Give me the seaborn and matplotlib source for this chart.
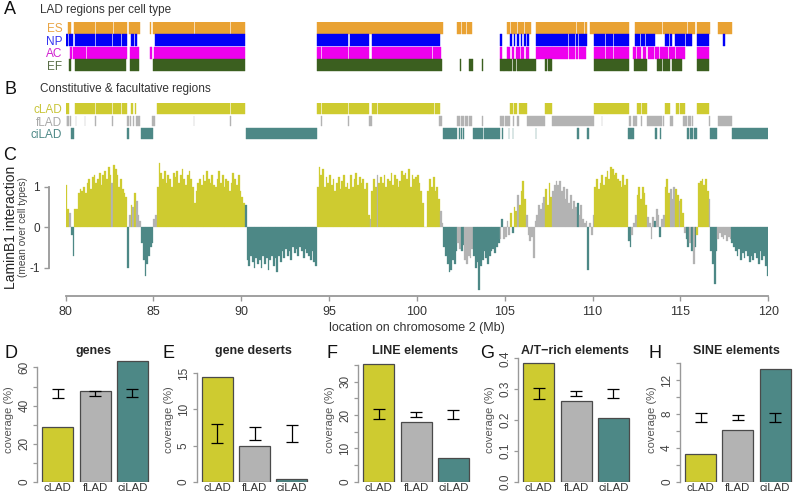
import numpy as np
import matplotlib
matplotlib.use("Agg")
import matplotlib.pyplot as plt
import seaborn as sns

# ---- LAD calls per cell type (start, end) in Mb ----
es_regions = [(80.14, 80.30), (80.50, 81.70), (81.73, 82.70), (82.73, 83.47), (83.63, 84.23),
              (84.82, 84.88), (84.97, 87.31), (87.34, 89.36), (89.39, 90.23), (94.29, 97.78),
              (97.81, 101.46), (102.29, 102.50), (102.56, 102.78), (102.84, 103.11),
              (105.10, 105.30), (105.38, 105.70), (105.76, 106.10), (106.16, 106.47),
              (106.77, 109.08), (109.12, 109.37), (109.41, 109.52), (109.57, 109.67),
              (109.86, 112.05), (112.42, 113.93), (114.02, 115.35), (115.44, 115.82),
              (115.92, 116.68), (117.11, 117.91)]
np_regions = [(80.02, 80.14), (80.21, 80.28), (80.33, 80.44), (80.53, 81.70), (81.73, 82.65),
              (82.68, 83.18), (83.21, 83.48), (83.70, 83.89), (83.97, 84.08), (85.09, 90.23),
              (94.31, 96.06), (96.19, 97.25), (97.44, 101.31), (104.72, 104.85), (105.30, 105.40),
              (105.50, 105.60), (105.70, 105.80), (105.90, 106.00), (106.10, 106.20),
              (106.25, 106.37), (106.77, 107.66), (107.70, 108.61), (108.65, 108.99),
              (109.03, 109.18), (109.22, 109.37), (109.41, 109.67), (110.05, 110.70),
              (110.74, 111.17), (111.21, 112.05), (112.42, 112.70), (112.76, 113.00),
              (113.06, 113.55), (114.11, 114.36), (114.42, 114.50), (114.68, 115.25),
              (115.30, 115.63), (115.92, 116.64), (117.40, 117.53)]
ac_regions = [(80.25, 80.35), (80.44, 81.18), (81.22, 83.48), (83.67, 84.18), (84.80, 84.90),
              (85.03, 90.23), (94.31, 94.56), (94.60, 96.09), (96.13, 97.28), (97.44, 100.66),
              (100.70, 100.85), (100.89, 101.35), (104.72, 104.82), (105.14, 105.30),
              (105.40, 105.55), (105.65, 105.85), (105.95, 106.10), (106.20, 106.37),
              (106.77, 108.61), (108.65, 108.99), (109.03, 109.18), (109.22, 109.37),
              (109.41, 109.60), (110.05, 110.70), (110.74, 111.17), (111.21, 112.05),
              (112.28, 112.45), (112.55, 112.75), (112.85, 113.05), (113.15, 113.50),
              (113.56, 113.80), (113.86, 114.30), (114.36, 114.70), (114.76, 115.25),
              (115.92, 116.64)]
ef_regions = [(80.21, 80.31), (80.53, 83.44), (83.67, 84.20), (84.96, 90.23), (94.31, 101.40),
              (102.43, 102.49), (102.96, 103.19), (103.72, 103.76), (104.72, 104.93),
              (104.97, 105.22), (105.26, 105.40), (105.44, 105.65), (105.69, 106.77),
              (107.27, 107.42), (107.46, 107.68), (110.09, 112.05), (112.33, 113.09),
              (113.64, 113.93), (114.02, 114.40), (114.50, 115.07), (115.92, 116.64)]

# ---- constitutive / facultative classes (start, end) in Mb ----
clad_regions = [(80.00, 80.18), (80.53, 81.08), (81.12, 81.69), (81.73, 82.64), (82.68, 83.18),
                (83.21, 83.48), (83.70, 83.82), (83.93, 84.00), (85.18, 87.30), (87.33, 89.37),
                (89.40, 90.23), (94.31, 94.56), (94.60, 96.10), (96.13, 97.28), (97.44, 97.75),
                (97.78, 100.66), (100.70, 100.98), (101.02, 101.31), (105.29, 105.45),
                (105.55, 105.70), (105.80, 106.24), (107.27, 107.68), (110.09, 110.52),
                (110.55, 110.80), (110.83, 112.05), (112.52, 112.78), (112.82, 113.09),
                (114.11, 114.40), (114.72, 114.92), (114.96, 115.25), (115.92, 116.64)]
flad_regions = [(79.98, 80.05), (80.10, 80.20), (80.25, 80.32), (80.59, 80.61), (81.09, 81.11),
                (81.70, 81.72), (82.65, 82.67), (83.48, 83.60), (83.64, 83.70), (83.82, 83.92),
                (84.00, 84.23), (84.90, 85.09), (87.30, 87.33), (89.37, 89.39), (94.56, 94.60),
                (96.10, 96.13), (97.28, 97.44), (101.25, 101.44), (102.29, 102.45),
                (102.50, 102.70), (102.75, 102.90), (102.95, 103.15), (103.71, 103.74),
                (104.72, 104.95), (105.00, 105.29), (105.45, 105.55), (105.70, 105.80),
                (106.24, 107.27), (107.68, 110.05), (110.52, 110.55), (112.05, 112.20),
                (112.28, 112.52), (112.78, 112.82), (113.09, 113.93), (114.02, 114.08),
                (114.40, 114.55), (115.16, 115.35), (115.45, 115.60), (115.65, 115.73),
                (116.64, 116.68), (117.11, 117.91)]
cilad_regions = [(80.32, 80.48), (83.48, 83.61), (84.27, 84.96), (90.25, 94.31), (101.50, 102.29),
                 (102.40, 102.43), (102.52, 102.56), (102.64, 102.68), (103.20, 103.76),
                 (103.81, 104.72), (104.85, 104.88), (105.22, 105.24), (105.44, 105.46),
                 (106.77, 106.80), (109.11, 109.20), (109.67, 109.77), (112.01, 112.10),
                 (112.14, 112.22), (112.26, 112.33), (113.55, 113.64), (113.85, 113.88),
                 (115.35, 115.50), (115.56, 115.70), (115.76, 115.92), (116.70, 117.06),
                 (117.91, 120.00)]

# ---- mean LaminB1 interaction, 0.1 Mb bins starting at 80 Mb ----
signal_start = 80.0
signal_step = 0.1
lamin_signal = [
    1.05, 0.45, 0.35, -0.2, -0.7, 0.45, 0.45, 0.85, 0.95, 0.9,
    1.0, 0.85, 1.1, 1.2, 0.95, 1.25, 1.3, 1.1, 1.2, 1.35,
    1.05, 1.3, 1.4, 1.2, 1.5, 1.3, 1.1, 1.55, 1.45, 1.3,
    1.0, 1.2, 0.95, 0.85, 0.75, -1.0, 0.3, 0.55, 0.5, 0.85,
    0.65, 0.3, 0.15, -0.4, -0.8, -1.2, -0.9, -0.7, -0.5, -0.4,
    0.2, 0.3, 1.0, 1.6, 1.35, 1.2, 1.4, 1.1, 1.3, 1.2,
    1.0, 1.35, 1.25, 1.4, 1.1, 1.3, 1.45, 1.2, 1.05, 1.3,
    1.4, 1.2, 1.0, 0.6, 0.9, 1.1, 1.2, 1.05, 1.3, 1.15,
    1.4, 1.2, 1.1, 1.3, 1.05, 1.0, 1.2, 1.4, 1.1, 1.3,
    1.0, 1.2, 1.15, 0.9, 1.1, 1.35, 1.2, 1.05, 1.3, 0.9,
    0.75, 0.6, 0.55, -0.8, -0.95, -0.7, -0.85, -1.0, -0.75, -0.9,
    -0.8, -1.0, -0.7, -0.9, -0.75, -1.05, -0.8, -0.7, -0.95, -0.75,
    -1.1, -0.7, -0.85, -0.6, -0.75, -0.55, -0.7, -0.6, -0.8, -0.5,
    -0.65, -0.55, -0.7, -0.5, -0.6, -0.75, -0.55, -0.65, -0.7, -0.8,
    -0.6, -0.85, -0.95, 1.0, 1.5, 1.3, 1.45, 1.0, 1.25, 1.1,
    1.3, 1.05, 1.2, 0.9, 1.1, 1.25, 0.95, 1.15, 1.3, 1.0,
    1.1, 0.95, 1.3, 1.0, 1.2, 1.35, 1.05, 1.25, 1.1, 1.2,
    0.95, 1.1, 0.3, 0.2, 0.9, 1.2, 1.0, 1.3, 1.1, 1.25,
    1.1, 1.3, 1.0, 1.2, 1.15, 1.35, 1.05, 1.3, 1.2, 1.0,
    1.15, 1.4, 1.3, 1.35, 1.2, 1.45, 1.0, 1.3, 1.2, 1.25,
    1.3, 1.1, 0.9, 0.6, 0.0, 0.0, 0.9, 1.2, 1.0, 1.25,
    0.9, 1.0, 0.7, 0.4, 0.1, -0.5, -0.7, -0.9, -1.1, -1.05,
    -0.8, -0.9, -0.6, -0.4, -0.55, -0.6, -0.45, -0.8, -0.9, -0.7,
    -0.75, -0.55, -0.7, -1.0, -0.85, -1.55, -0.95, -0.8, -0.6, -0.75,
    -0.9, -0.7, -0.6, -0.55, -0.65, -0.5, -0.4, -0.3, 0.2, -0.3,
    -0.25, 0.15, -0.2, 0.35, -0.15, 0.5, 0.4, 0.8, 0.55, 0.9,
    1.15, 0.7, 0.3, -0.2, -0.35, -0.25, -0.75, 0.15, 0.3, 0.55,
    0.45, 0.6, 0.75, 0.95, 0.55, 1.1, 0.75, 0.9, 1.05, 1.15,
    1.05, 1.15, 0.9, 1.0, 0.7, 0.95, 0.6, 0.8, 0.45, 0.65,
    0.5, 0.6, 0.3, 0.55, 0.2, 0.1, 0.15, -1.05, 0.1, -0.2,
    0.3, 1.0, 1.2, 0.95, 1.1, 1.3, 1.05, 1.25, 1.4, 1.2,
    1.5, 1.45, 1.3, 1.35, 1.2, 1.15, 1.0, 1.3, 1.05, 1.2,
    -0.35, -0.5, -0.2, 0.1, 0.3, 0.8, 1.0, 0.7, 1.0, 0.85,
    0.55, 0.25, 0.1, -0.3, 0.25, 0.15, 0.45, 0.3, -0.25, 0.2,
    0.3, 1.0, 1.2, 0.85, 0.95, 0.7, 1.0, 0.95, 0.8, 0.65,
    0.7, 0.35, -0.15, -0.3, -0.5, -0.4, -0.6, -0.9, -0.5, -0.2,
    1.1, 1.15, 1.2, 1.05, 1.2, 0.9, 0.7, -0.6, -0.9, -1.4,
    -0.6, -0.3, -0.15, -0.25, -0.3, -0.2, -0.35, -0.25, -0.3, -0.4,
    -0.5, -0.6, -0.7, -0.55, -0.8, -0.65, -0.75, -0.6, -0.7, -0.85,
    -0.7, -0.8, -0.65, -0.75, -0.9, -0.6, -0.8, -0.7, -0.95, -1.2,
]

# ---- coverage per class (%), bar value and random-expectation interval ----
region_classes = ["cLAD", "fLAD", "ciLAD"]
genes_cov = [28.6, 47.8, 63.5]
genes_low = [44.1, 45.1, 44.6]
genes_high = [48.5, 47.8, 48.5]
deserts_cov = [14.45, 5.0, 0.37]
deserts_low = [5.4, 5.8, 5.55]
deserts_high = [8.0, 7.6, 7.85]
line_cov = [35.2, 18.0, 7.2]
line_low = [18.8, 19.5, 18.8]
line_high = [21.7, 21.0, 21.5]
at_cov = [0.384, 0.262, 0.206]
at_low = [0.267, 0.278, 0.270]
at_high = [0.303, 0.294, 0.300]
sine_cov = [3.23, 6.1, 13.27]
sine_low = [7.0, 7.28, 7.08]
sine_high = [8.07, 7.87, 8.07]

cell_types = ["ES", "NP", "AC", "EF"]
cell_regions = [es_regions, np_regions, ac_regions, ef_regions]
class_regions = [clad_regions, flad_regions, cilad_regions]

cell_colors = ["#E9A233", "#0000F6", "#EE00EE", "#3B5F1F"]
cell_label_colors = ["#E9A545", "#3535F0", "#D020D0", "#5A6E48"]
class_colors = ["#CECB30", "#B3B3B3", "#4D8886"]
class_label_colors = ["#C8C538", "#A8A8A8", "#4D8886"]
AXIS_GREY = "#999999"
TEXT_GREY = "#444444"

sns.set_style("white")
plt.rcParams["font.family"] = ["Liberation Sans", "DejaVu Sans"]

W, H = 794, 496
fig = plt.figure(figsize=(W / 100, H / 100), dpi=100)


def px_axes(left, top, right, bottom):
    return fig.add_axes([left / W, 1 - bottom / H, (right - left) / W, (bottom - top) / H])


def fig_text(x, y, s, **kw):
    fig.text(x / W, 1 - y / H, s, va="center", **kw)


X0, X1 = 65.6, 768.3


def draw_tracks(ax, names, regions, colors, label_colors, height):
    for i, (name, regs, col) in enumerate(zip(names, regions, colors)):
        ax.broken_barh([(s, e - s) for s, e in regs], (i + (1 - height) / 2, height),
                       facecolors=col, edgecolors=col, linewidth=0.3)
    ax.set_xlim(80, 120)
    ax.set_ylim(len(names), 0)
    ax.set_xticks([])
    ax.set_yticks(np.arange(len(names)) + 0.5)
    ax.set_yticklabels(names, fontsize=8.5)
    for lab, c in zip(ax.get_yticklabels(), label_colors):
        lab.set_color(c)
    ax.tick_params(axis="y", length=0, pad=2.5)
    sns.despine(ax=ax, left=True, bottom=True)


# A: LAD regions per cell type
fig_text(4, 10, "A", fontsize=13, color="#111111")
fig_text(40, 10, "LAD regions per cell type", fontsize=8.5, color="#333333")
ax_a = px_axes(X0, 21.5, X1, 71.5)
draw_tracks(ax_a, cell_types, cell_regions, cell_colors, cell_label_colors, 0.93)

# B: constitutive & facultative
fig_text(4, 89, "B", fontsize=13, color="#111111")
fig_text(40, 89, "Constitutive & facultative regions", fontsize=8.5, color="#333333")
ax_b = px_axes(X0, 102.5, X1, 139.5)
draw_tracks(ax_b, region_classes, class_regions, class_colors, class_label_colors, 0.86)

# C: LaminB1 signal
fig_text(3, 155, "C", fontsize=13, color="#111111")
ax_c = px_axes(X0, 160.8, X1, 296)
signal = np.array(lamin_signal)
bin_left = signal_start + signal_step * np.arange(len(signal))
bin_mid = bin_left + signal_step / 2


def in_regions(x, regs):
    return any(s <= x < e for s, e in regs)


bin_colors = []
for m in bin_mid:
    if in_regions(m, clad_regions):
        bin_colors.append(class_colors[0])
    elif in_regions(m, cilad_regions):
        bin_colors.append(class_colors[2])
    else:
        bin_colors.append(class_colors[1])
ax_c.bar(bin_left, signal, width=signal_step, align="edge", color=bin_colors,
         edgecolor=bin_colors, linewidth=0.2)
ax_c.set_xlim(80, 120)
ax_c.set_ylim(-1.705, 1.65)
ax_c.set_xticks(np.arange(80, 121, 5))
ax_c.set_yticks([-1, 0, 1])
ax_c.set_yticklabels(["-1", "0", "1"])
sns.despine(ax=ax_c, top=True, right=True)
ax_c.spines["left"].set_position(("outward", 12))
ax_c.spines["left"].set_bounds(-1, 1)
for sp in ("left", "bottom"):
    ax_c.spines[sp].set_color(AXIS_GREY)
    ax_c.spines[sp].set_linewidth(1.3)
ax_c.tick_params(axis="both", colors=AXIS_GREY, labelcolor="#333333", labelsize=9,
                 length=3.5, width=1.0, direction="out", left=True, bottom=True)
ax_c.tick_params(axis="y", pad=3, labelsize=8.5)
ax_c.set_xlabel("location on chromosome 2 (Mb)", fontsize=9, color="#333333", labelpad=3)
fig_text(11, 227, "LaminB1 interaction", fontsize=10, rotation=90, ha="center", color="#222222")
fig_text(23, 227, "(mean over cell types)", fontsize=7.3, rotation=90, ha="center", color="#444444")

# D-H: coverage barplots
panels = [
    ("D", "genes", genes_cov, genes_low, genes_high, 37.3, 4,
     np.arange(0, 61, 10), [0, 20, 40, 60], "{:.0f}", 65.5),
    ("E", "gene deserts", deserts_cov, deserts_low, deserts_high, 196.7, 163,
     np.arange(0, 16, 5), [0, 5, 10, 15], "{:.0f}", 17.27),
    ("F", "LINE elements", line_cov, line_low, line_high, 358.3, 326,
     np.arange(0, 36, 5), [0, 10, 20, 30], "{:.0f}", 37.4),
    ("G", "A/T\u2212rich elements", at_cov, at_low, at_high, 518.3, 480,
     np.round(np.arange(0, 0.41, 0.1), 2), [0, 0.1, 0.2, 0.3, 0.4], "{:.1f}", 0.4045),
    ("H", "SINE elements", sine_cov, sine_low, sine_high, 680.0, 648,
     np.arange(0, 15, 2), [0, 4, 8, 12], "{:.0f}", 14.72),
]

for letter, title, cov, low, high, left, letter_x, ticks, labeled, fmt, ytop in panels:
    ax = px_axes(left, 357, left + 112.7, 481.7)
    sns.barplot(x=region_classes, y=cov, hue=region_classes, palette=class_colors,
                width=0.83, edgecolor="#4A4A4A", linewidth=0.9, legend=False,
                saturation=1, ax=ax)
    low = np.array(low)
    high = np.array(high)
    ax.errorbar([0, 1, 2], low, yerr=[np.zeros(3), high - low], fmt="none",
                ecolor="black", elinewidth=0.9, capsize=4.6, capthick=0.9)
    ax.set_xlim(-0.55, 2.47)
    ax.set_ylim(0, ytop)
    ax.set_yticks(ticks)
    ax.set_yticklabels([fmt.format(t) if any(abs(t - l) < 1e-9 for l in labeled) else ""
                        for t in ticks])
    for lab in ax.get_yticklabels():
        lab.set_rotation(90)
        lab.set_va("center")
    sns.despine(ax=ax, top=True, right=True, bottom=True)
    ax.spines["left"].set_bounds(ticks[0], ticks[-1])
    ax.spines["left"].set_color(AXIS_GREY)
    ax.spines["left"].set_linewidth(1.0)
    ax.tick_params(axis="y", colors=AXIS_GREY, labelcolor=TEXT_GREY, labelsize=8.5,
                   length=3, width=0.9, direction="out", left=True, pad=2)
    ax.tick_params(axis="x", length=0, labelsize=8.2, labelcolor="#333333", pad=1)
    ax.set_xlabel("")
    ax.set_ylabel("coverage (%)", fontsize=8, color="#555555", labelpad=3)
    ax.set_title(title, fontsize=9, fontweight="bold", pad=2)
    fig_text(letter_x, 353, letter, fontsize=13, color="#111111")

fig.savefig("out.png", dpi=100)
